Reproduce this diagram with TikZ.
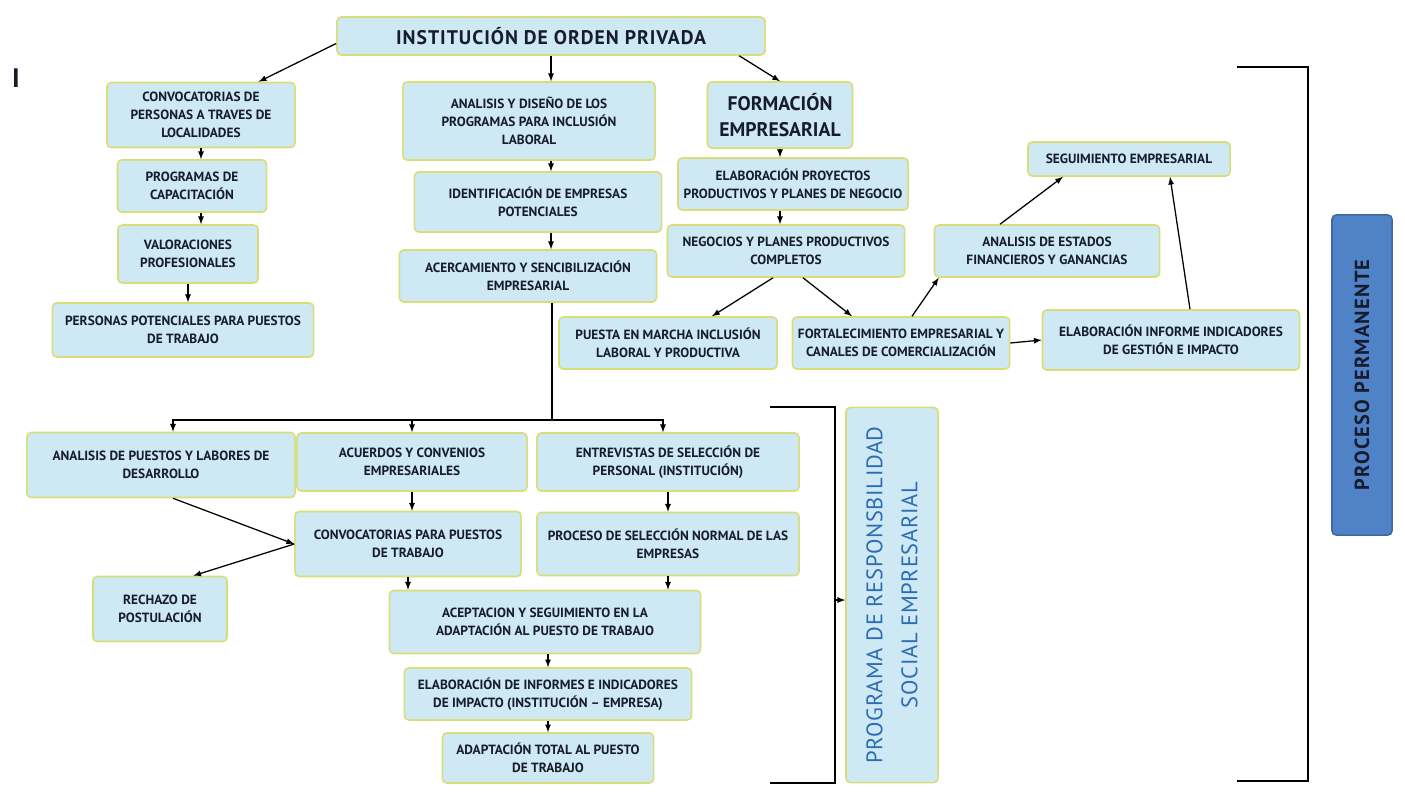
\documentclass[tikz,border=0pt]{standalone}
\usepackage{fontspec}
\setmainfont{PT Sans}
\usetikzlibrary{arrows}
\usetikzlibrary{calc}
\usetikzlibrary{positioning}

\definecolor{fondocaja}{RGB}{206,233,243}
\definecolor{bordecaja}{RGB}{216,222,118}
\definecolor{textocaja}{RGB}{22,28,44}
\definecolor{azulproceso}{RGB}{80,130,200}
\definecolor{azulprograma}{RGB}{44,108,182}

\tikzset{
  bloque/.style={draw=bordecaja, line width=1.1pt, fill=fondocaja, rounded corners=3pt,
    align=center, text=textocaja, inner sep=2pt, font=\bfseries\fontsize{9.5}{13}\selectfont},
  flecha/.style={-latex, line width=0.9pt, black},
  corchete/.style={line width=0.9pt, black}
}

\begin{document}
\begin{tikzpicture}[x=0.025cm, y=-0.025cm]
        \useasboundingbox (0,0) rectangle (1405,791);

        % Marca
        \node[text=textocaja, font=\bfseries\fontsize{19}{20}\selectfont] (marca) at (16,78) {I};

        % Raiz
        \node[bloque, minimum width=10.7cm, minimum height=0.95cm, font=\bfseries\fontsize{14}{16}\selectfont\addfontfeature{LetterSpace=5}] (top) at (551,36) {INSTITUCIÓN DE ORDEN PRIVADA};

        % Columna izquierda
        \node[bloque, minimum width=4.7cm, minimum height=1.625cm] (c1) at (201,115) {CONVOCATORIAS DE\\PERSONAS A TRAVES DE\\LOCALIDADES};
        \node[bloque, minimum width=3.725cm, minimum height=1.3cm] (c2) at (192,186) {PROGRAMAS DE\\CAPACITACIÓN};
        \node[bloque, minimum width=3.5cm, minimum height=1.45cm] (c3) at (188,254) {VALORACIONES\\PROFESIONALES};
        \node[bloque, minimum width=6.525cm, minimum height=1.35cm] (c4) at (183,330) {PERSONAS POTENCIALES PARA PUESTOS\\DE TRABAJO};

        % Columna central
        \node[bloque, minimum width=6.3cm, minimum height=1.95cm] (m1) at (529,121) {ANALISIS Y DISEÑO DE LOS\\PROGRAMAS PARA INCLUSIÓN\\LABORAL};
        \node[bloque, minimum width=6.175cm, minimum height=1.5cm] (m2) at (538,202) {IDENTIFICACIÓN DE EMPRESAS\\POTENCIALES};
        \node[bloque, minimum width=6.425cm, minimum height=1.3cm] (m3) at (528,276) {ACERCAMIENTO Y SENCIBILIZACIÓN\\EMPRESARIAL};

        % Formacion empresarial
        \node[bloque, minimum width=3.625cm, minimum height=1.65cm, font=\bfseries\fontsize{14}{18}\selectfont] (r1) at (780,115) {FORMACIÓN\\EMPRESARIAL};
        \node[bloque, minimum width=5.75cm, minimum height=1.3cm] (r2) at (793,184) {ELABORACIÓN PROYECTOS\\PRODUCTIVOS Y PLANES DE NEGOCIO};
        \node[bloque, minimum width=5.925cm, minimum height=1.3cm] (r3) at (786,251) {NEGOCIOS Y PLANES PRODUCTIVOS\\COMPLETOS};
        \node[bloque, minimum width=5.45cm, minimum height=1.3cm] (p1) at (668,343) {PUESTA EN MARCHA INCLUSIÓN\\LABORAL Y PRODUCTIVA};
        \node[bloque, minimum width=5.425cm, minimum height=1.3cm] (p2) at (901,343) {FORTALECIMIENTO EMPRESARIAL Y\\CANALES DE COMERCIALIZACIÓN};
        \node[bloque, minimum width=6.425cm, minimum height=1.5cm] (p3) at (1171,340) {ELABORACIÓN INFORME INDICADORES\\DE GESTIÓN E IMPACTO};
        \node[bloque, minimum width=5.625cm, minimum height=1.3cm] (a1) at (1047,251) {ANALISIS DE ESTADOS\\FINANCIEROS Y GANANCIAS};
        \node[bloque, minimum width=5.05cm, minimum height=0.85cm] (s1) at (1129,159) {SEGUIMIENTO EMPRESARIAL};

        % Proceso permanente
        \node[bloque, rotate=90, fill=azulproceso, draw=azulproceso!80!black, minimum width=8cm, minimum height=1.5cm, font=\bfseries\fontsize{14.5}{16}\selectfont\addfontfeature{LetterSpace=6}] (proc) at (1362,375) {PROCESO PERMANENTE};

        % Parte baja
        \node[bloque, minimum width=6.7cm, minimum height=1.625cm] (b1) at (161,465) {ANALISIS DE PUESTOS Y LABORES DE\\DESARROLLO};
        \node[bloque, minimum width=5.75cm, minimum height=1.45cm] (b2) at (412,462) {ACUERDOS Y CONVENIOS\\EMPRESARIALES};
        \node[bloque, minimum width=6.55cm, minimum height=1.45cm] (b3) at (668,462) {ENTREVISTAS DE SELECCIÓN DE\\PERSONAL (INSTITUCIÓN)};
        \node[bloque, minimum width=5.65cm, minimum height=1.625cm] (b4) at (408,544) {CONVOCATORIAS PARA PUESTOS\\DE TRABAJO};
        \node[bloque, minimum width=6.55cm, minimum height=1.575cm] (b5) at (668,544) {PROCESO DE SELECCIÓN NORMAL DE LAS\\EMPRESAS};
        \node[bloque, minimum width=3.35cm, minimum height=1.625cm] (b6) at (160,609) {RECHAZO DE\\POSTULACIÓN};
        \node[bloque, minimum width=7.775cm, minimum height=1.575cm] (b7) at (545,622) {ACEPTACION Y SEGUIMIENTO EN LA\\ADAPTACIÓN AL PUESTO DE TRABAJO};
        \node[bloque, minimum width=7.175cm, minimum height=1.3cm] (b8) at (548,694) {ELABORACIÓN DE INFORMES E INDICADORES\\DE IMPACTO (INSTITUCIÓN – EMPRESA)};
        \node[bloque, minimum width=5.275cm, minimum height=1.25cm] (b9) at (548,758) {ADAPTACIÓN TOTAL AL PUESTO\\DE TRABAJO};

        % Programa
        \node[bloque, rotate=90, minimum width=9.375cm, minimum height=2.3cm, text=azulprograma, font=\fontsize{16}{25}\selectfont\addfontfeature{LetterSpace=3}] (prog) at (892,595) {PROGRAMA DE RESPONSBILIDAD\\SOCIAL EMPRESARIAL};

        % Flechas izquierda
        \draw[flecha] (top.182) -- (c1.30);
        \draw[flecha] (c1.south) -- (c1.south |- c2.north);
        \draw[flecha] (c2.south -| c1.south) -- (c3.north -| c1.south);
        \draw[flecha] (c3.south) -- (c3.south |- c4.north);

        % Flechas centro
        \draw[flecha] (top.south) -- (top.south |- m1.north);
        \draw[flecha] (m1.south -| top.south) -- (m2.north -| top.south);
        \draw[flecha] (m2.south -| top.south) -- (m3.north -| top.south);
        \coordinate (ramal) at (552,420);
        \draw[corchete] (m3.south -| ramal) -- (ramal);
        \draw[flecha] (ramal) -| ($(b1.north)+(12,0)$);
        \draw[flecha] (ramal) -| (b2.north);
        \draw[flecha] (ramal) -| ($(b3.north)+(-5,0)$);

        % Flechas derecha
        \draw[flecha] (top.354) -- (r1.north);
        \draw[flecha] (r1.south) -- (r1.south |- r2.north);
        \draw[flecha] (r2.south -| r1.south) -- (r3.north -| r1.south);
        \draw[flecha] ($(r3.south)+(-13,0)$) -- ($(p1.north)+(44,0)$);
        \draw[flecha] ($(r3.south)+(17,0)$) -- ($(p2.north)+(-49,0)$);
        \draw[flecha] ($(p2.north)+(11,0)$) -- ($(a1.south west)+(5,0)$);
        \draw[flecha] ($(a1.north)+(-47,0)$) -- ($(s1.south)+(-66,0)$);
        \draw[flecha] ($(p3.north)+(19,0)$) -- ($(s1.south)+(41,0)$);
        \draw[flecha] (p2.east) -- (p3.west);

        % Flechas abajo
        \draw[flecha] ($(b1.south)+(12,0)$) -- (b4.west);
        \draw[flecha] (b4.west) -- (b6.45);
        \draw[flecha] (b2.south) -- (b2.south |- b4.north);
        \draw[flecha] (b3.south) -- (b3.south |- b5.north);
        \draw[flecha] (b4.south) -- (b4.south |- b7.north);
        \draw[flecha] (b5.south) -- (b5.south |- b7.north);
        \draw[flecha] (b7.south -| b8.north) -- (b8.north);
        \draw[flecha] (b8.south) -- (b8.south |- b9.north);

        % Corchetes
        \draw[corchete] (1237,67) -| (1308,781) -- (1237,781);
        \draw[corchete] (770,407) -| (835,783) -- (770,783);
        \coordinate (llave) at (835,600);
        \draw[flecha] (llave) -- (llave -| prog.north);
      \end{tikzpicture}
\end{document}
